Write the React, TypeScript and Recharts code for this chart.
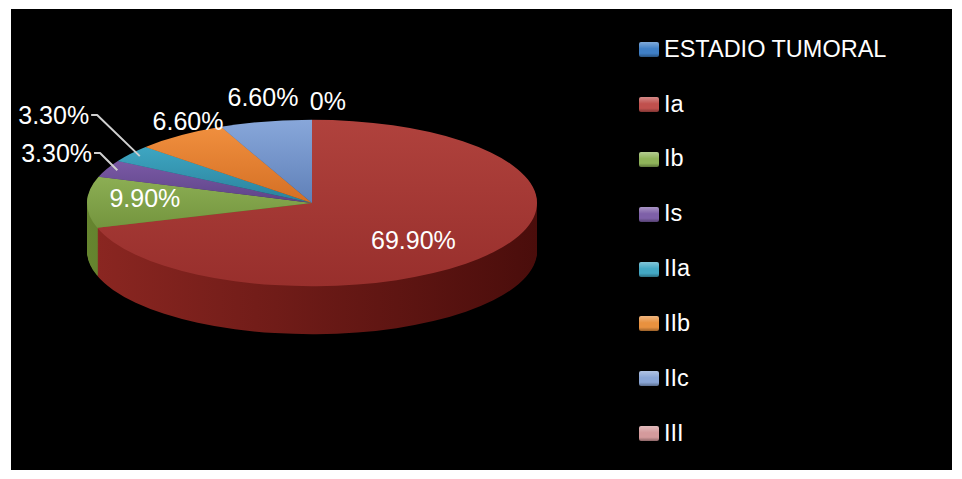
import React from 'react';
import { PieChart, Pie, Cell, Legend } from 'recharts';

const categories = ['Ia', 'Ib', 'Is', 'IIa', 'IIb', 'IIc', 'III'];
const percentages = [69.9, 9.9, 3.3, 3.3, 6.6, 6.6, 0];
const seriesName = 'ESTADIO TUMORAL';
const legendLabels = [seriesName, ...categories];

// face colours (top light -> dark) and side colours (left -> right)
const topLight = ['#b0423d', '#8cae54', '#7a5aa5', '#3ea6c2', '#f08f3e', '#88a7da', '#d09597'];
const topDark = ['#982f2c', '#74953e', '#5e4388', '#2a819b', '#d46f24', '#5f80b8', '#b87a7c'];
const sideLight = ['#8a2621', '#66852f', '#4c3570', '#1f6378', '#a8561c', '#4a6794', '#8f5e60'];
const sideDark = ['#4a0d0b', '#435a1e', '#33234d', '#144252', '#733a12', '#324665', '#643f41'];
const legendColors = ['#3f7fc6', '#c0504d', '#8fb35a', '#7e60a8', '#43a8c4', '#e8913f', '#8aa6d6', '#d49a9c'];

const W = 962, H = 479;
const CX = 312, CY = 203, R = 225, K = 0.37, DEPTH = 48;
const FONT = '"Liberation Sans", Arial, Helvetica, sans-serif';
const RAD = Math.PI / 180;

const data = categories.map((name, i) => ({ name, value: percentages[i] }));
const sideOffsets = Array.from({ length: DEPTH }, (_, i) => DEPTH - i);

// label placement relative to slice mid angle (radius factor, angle shift)
const labelPlace = [
  { f: 0.63, da: -8, leader: false },
  { f: 0.745, da: -4, leader: false },
  { f: 1.117, da: -8.1, leader: true },
  { f: 1.425, da: -11.6, leader: true },
  { f: 1.13, da: -6.6, leader: false },
  { f: 1.29, da: -2.2, leader: false },
  { f: 1.225, da: -3.3, leader: false },
];

// squash each pie layer into an ellipse, lifted by d px; nested copies of the class get no transform
const css = `body{margin:0}
${[0, ...sideOffsets]
  .map(d => `.lift-${d}{transform:translate(0px,${d}px) scale(1,${K});transform-origin:${CX}px ${CY}px}
.lift-${d} .lift-${d}{transform:none}`)
  .join('\n')}`;

const onFace = (ang: number, f: number) => ({
  x: CX + R * f * Math.cos(-ang * RAD),
  y: CY + R * f * Math.sin(-ang * RAD) * K,
});
const fmt = (v: number) => (v === 0 ? '0%' : `${v.toFixed(2)}%`);

const textStyle = { fill: '#fff', fontSize: 25, fontFamily: FONT };

function renderLabel(props: any) {
  const { index, midAngle, value } = props;
  const pl = labelPlace[index];
  const p = onFace(midAngle + pl.da, pl.f);
  if (pl.leader) {
    const s = onFace(midAngle, 0.95);
    return (
      <g key={`lbl-${index}`}>
        <polyline
          points={`${s.x},${s.y} ${p.x},${p.y} ${p.x - 6},${p.y}`}
          fill="none" stroke="#cfcfcf" strokeWidth={2} strokeLinejoin="round"
        />
        <text x={p.x - 8} y={p.y} textAnchor="end" dominantBaseline="central" {...textStyle}>
          {fmt(value)}
        </text>
      </g>
    );
  }
  return (
    <text key={`lbl-${index}`} x={p.x} y={p.y} textAnchor="middle" dominantBaseline="central" {...textStyle}>
      {fmt(value)}
    </text>
  );
}

function LegendBox() {
  return (
    <div>
      {legendLabels.map((name, i) => (
        <div key={name} style={{ display: 'flex', alignItems: 'center', height: 54.9 }}>
          <span
            style={{
              width: 20, height: 15, borderRadius: 2, marginRight: 5,
              background: `linear-gradient(to bottom, #ffffff55, ${legendColors[i]} 45%, ${legendColors[i]} 75%, #00000055)`,
              backgroundColor: legendColors[i],
            }}
          />
          <span style={{ color: '#fff', fontSize: 23.5, fontFamily: FONT, lineHeight: 1 }}>{name}</span>
        </div>
      ))}
    </div>
  );
}

export default function App() {
  return (
    <div style={{ position: 'relative', width: W, height: H, background: '#fff' }}>
      <style>{css}</style>
      <svg width={0} height={0} style={{ position: 'absolute' }}>
        <defs>
          {categories.map((c, i) => (
            <linearGradient key={`t${c}`} id={`top-${i}`} x1="0" y1="0" x2="0" y2="1">
              <stop offset="0%" stopColor={topLight[i]} />
              <stop offset="100%" stopColor={topDark[i]} />
            </linearGradient>
          ))}
          {categories.map((c, i) => (
            <linearGradient key={`s${c}`} id={`side-${i}`} x1="0" y1="0" x2="1" y2="0">
              <stop offset="0%" stopColor={sideLight[i]} />
              <stop offset="100%" stopColor={sideDark[i]} />
            </linearGradient>
          ))}
        </defs>
      </svg>
      <div style={{ position: 'absolute', left: 11, top: 9, width: 941, height: 461, background: '#000' }} />
      <PieChart
        width={W} height={H} margin={{ top: 0, right: 0, bottom: 0, left: 0 }}
        style={{ position: 'absolute', left: 0, top: 0 }}
      >
        {sideOffsets.map(d => (
          <Pie
            key={`side${d}`} className={`lift-${d}`} data={data} dataKey="value" nameKey="name"
            cx={CX} cy={CY} outerRadius={R} startAngle={90} endAngle={-270}
            stroke="none" isAnimationActive={false} legendType="none"
          >
            {data.map((e, i) => <Cell key={e.name} fill={`url(#side-${i})`} />)}
          </Pie>
        ))}
        <Pie
          className="lift-0" data={data} dataKey="value" nameKey="name"
          cx={CX} cy={CY} outerRadius={R} startAngle={90} endAngle={-270}
          stroke="none" isAnimationActive={false}
        >
          {data.map((e, i) => <Cell key={e.name} fill={`url(#top-${i})`} />)}
        </Pie>
        <Pie
          data={data} dataKey="value" nameKey="name"
          cx={CX} cy={CY} outerRadius={R} startAngle={90} endAngle={-270}
          fill="none" stroke="none" isAnimationActive={false} legendType="none"
          label={renderLabel} labelLine={false}
        />
        <Legend
          layout="vertical" verticalAlign="top" align="right"
          wrapperStyle={{ left: 639, top: 22, width: 300 }}
          content={() => <LegendBox />}
        />
      </PieChart>
    </div>
  );
}
